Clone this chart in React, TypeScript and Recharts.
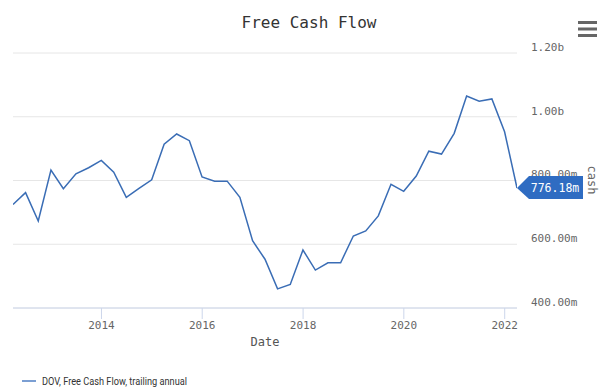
import { LineChart, Line, XAxis, YAxis, CartesianGrid } from 'recharts';

// quarter-end dates of the trailing-annual series
const quarters = [
  '2012-03-31', '2012-06-30', '2012-09-30', '2012-12-31',
  '2013-03-31', '2013-06-30', '2013-09-30', '2013-12-31',
  '2014-03-31', '2014-06-30', '2014-09-30', '2014-12-31',
  '2015-03-31', '2015-06-30', '2015-09-30', '2015-12-31',
  '2016-03-31', '2016-06-30', '2016-09-30', '2016-12-31',
  '2017-03-31', '2017-06-30', '2017-09-30', '2017-12-31',
  '2018-03-31', '2018-06-30', '2018-09-30', '2018-12-31',
  '2019-03-31', '2019-06-30', '2019-09-30', '2019-12-31',
  '2020-03-31', '2020-06-30', '2020-09-30', '2020-12-31',
  '2021-03-31', '2021-06-30', '2021-09-30', '2021-12-31',
  '2022-03-31',
];

// free cash flow, millions USD
const fcfMillions = [
  725, 762, 673, 833, 774, 821, 840, 863, 826, 747,
  775, 802, 914, 946, 925, 811, 798, 798, 747, 611,
  553, 460, 474, 582, 519, 542, 542, 626, 642, 689,
  788, 766, 814, 892, 883, 948, 1065, 1049, 1056, 953,
  776.18,
];

const yearTicks = ['2014', '2016', '2018', '2020', '2022'];
const yTicks = [400e6, 600e6, 800e6, 1000e6, 1200e6];

const LINE_COLOR = '#3a6db5';
const BADGE_COLOR = '#2f6cc2';
const MONO = '"DejaVu Sans Mono", "Liberation Mono", monospace';

const toTime = (d: string) => new Date(d + 'T00:00:00Z').getTime();

const data = quarters.map((q, i) => ({ t: toTime(q), fcf: fcfMillions[i] * 1e6 }));
const xTicks = yearTicks.map((y) => toTime(y + '-01-01'));

function fmtCash(v: number) {
  if (Math.abs(v) >= 1e9) return (v / 1e9).toFixed(2) + 'b';
  return (v / 1e6).toFixed(2) + 'm';
}

function YTick(props: any) {
  const { y, payload } = props;
  return (
    <text x={531} y={y - 6} dy="0.35em" textAnchor="start" fontFamily={MONO} fontSize={11} fill="#666">
      {fmtCash(payload.value)}
    </text>
  );
}

function XTick(props: any) {
  const { x, y, payload } = props;
  return (
    <text x={x} y={y} dy="0.75em" textAnchor="middle" fontFamily={MONO} fontSize={11} fill="#666">
      {new Date(payload.value).getUTCFullYear()}
    </text>
  );
}

function LastBadge(props: any) {
  const { x, y, index, value } = props;
  if (index !== data.length - 1) return null;
  const top = y - 12;
  const bottom = y + 11;
  const path = `M${x},${y} L${x + 12},${top} L${x + 66},${top} L${x + 66},${bottom} L${x + 12},${bottom} Z`;
  return (
    <g>
      <path d={path} fill={BADGE_COLOR} />
      <text x={x + 38} y={y} dy="0.35em" textAnchor="middle" fontFamily={MONO} fontSize={11.5} fill="#fff">
        {fmtCash(value)}
      </text>
    </g>
  );
}

export default function App() {
  return (
    <div style={{ position: 'absolute', left: 0, top: 0, width: 603, height: 390, background: '#fff' }}>
      <LineChart
        width={603}
        height={390}
        data={data}
        margin={{ top: 53, right: 0, bottom: 52, left: 13 }}
      >
        <CartesianGrid vertical={false} stroke="#e6e6e6" />
        <XAxis
          dataKey="t"
          type="number"
          domain={[toTime(quarters[0]), toTime(quarters[quarters.length - 1])]}
          ticks={xTicks}
          interval={0}
          height={30}
          tick={<XTick />}
          tickSize={11}
          tickMargin={2}
          stroke="#ccd6eb"
          allowDataOverflow
        />
        <YAxis
          orientation="right"
          width={86}
          domain={[400e6, 1200e6]}
          ticks={yTicks}
          interval={0}
          axisLine={false}
          tickLine={false}
          tick={<YTick />}
          allowDataOverflow
        />
        <Line
          type="linear"
          dataKey="fcf"
          stroke={LINE_COLOR}
          strokeWidth={1.5}
          dot={false}
          isAnimationActive={false}
          label={(p: any) => <LastBadge {...p} />}
        />
      </LineChart>
      <svg width={603} height={390} style={{ position: 'absolute', left: 0, top: 0, pointerEvents: 'none' }}>
        <text x={309} y={22} dy="0.35em" textAnchor="middle" fontFamily={MONO} fontSize={16} fill="#333">
          Free Cash Flow
        </text>
        <g fill="#666">
          <rect x={578} y={21} width={19} height={3} />
          <rect x={578} y={27.5} width={19} height={3} />
          <rect x={578} y={34} width={19} height={3} />
        </g>
        <text
          x={592}
          y={180}
          dy="0.35em"
          textAnchor="middle"
          fontFamily={MONO}
          fontSize={12}
          fill="#666"
          transform="rotate(90 592 180)"
        >
          cash
        </text>
        <text x={265} y={342} dy="0.35em" textAnchor="middle" fontFamily={MONO} fontSize={12} fill="#555">
          Date
        </text>
        <line x1={22} y1={381} x2={36} y2={381} stroke="#7b9fd3" strokeWidth={2} />
        <text
          x={42}
          y={381}
          dy="0.35em"
          fontFamily="Roboto, 'Noto Sans', sans-serif"
          fontSize={11}
          fill="#333"
          textLength={145}
          lengthAdjust="spacingAndGlyphs"
        >
          DOV, Free Cash Flow, trailing annual
        </text>
      </svg>
    </div>
  );
}
